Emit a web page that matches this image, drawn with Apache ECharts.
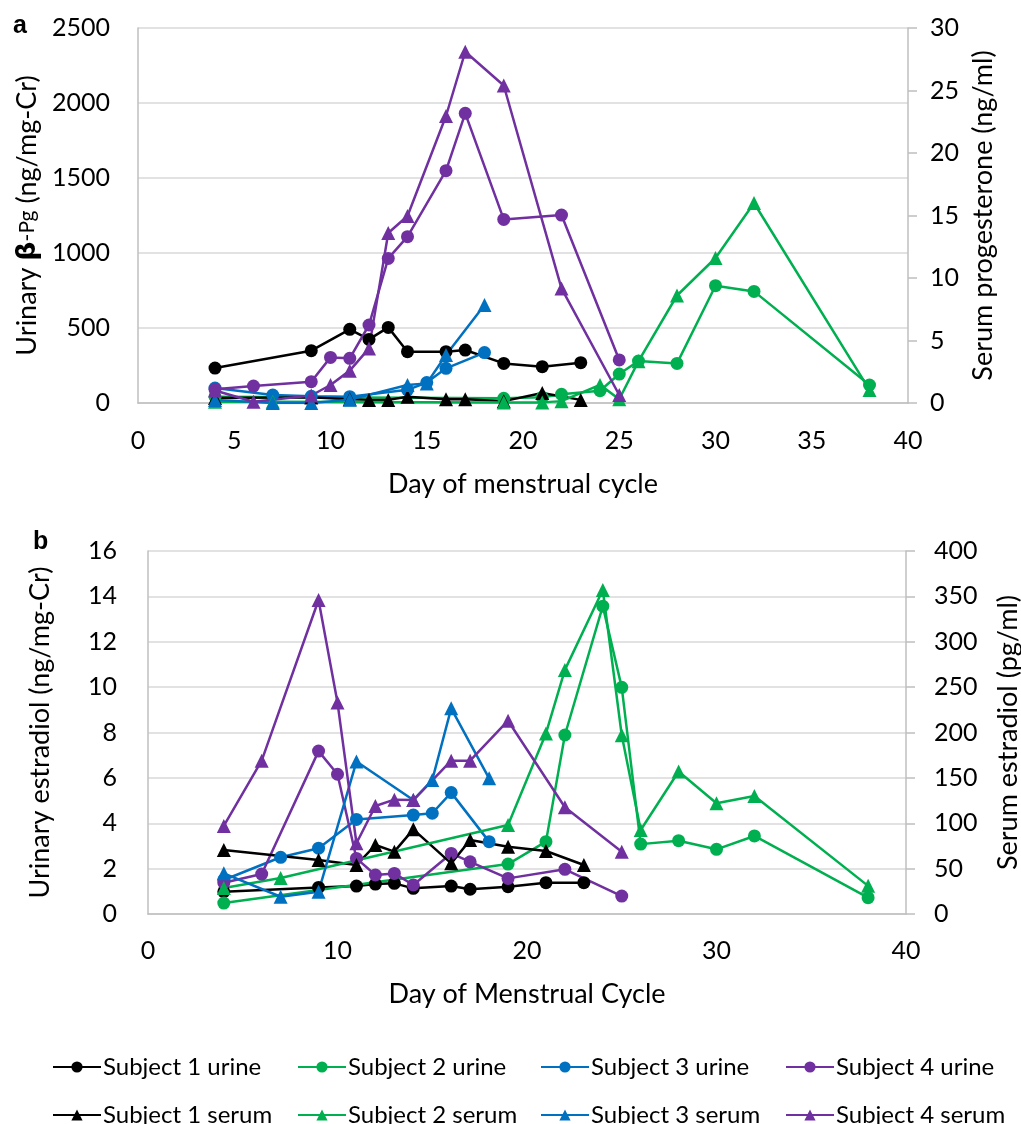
<!DOCTYPE html>
<html>
<head>
<meta charset="utf-8">
<script src="https://cdn.jsdelivr.net/npm/echarts@6/dist/echarts.min.js"></script>
<style>
  html, body { margin: 0; padding: 0; background: #fff; }
  #chart { width: 1021px; height: 1124px; }
</style>
</head>
<body>
<div id="chart"></div>
<script>
// ---- data ----
// panel a: urinary b-Pg (ng/mg-Cr, left) / serum progesterone (ng/ml, right)
var s1Days = [4, 9, 11, 12, 13, 14, 16, 17, 19, 21, 23];
var s2UrineDays = [4, 19, 21, 22, 24, 25, 26, 28, 30, 32, 38];
var s2SerumDays = [4, 7, 19, 21, 22, 24, 25, 26, 28, 30, 32, 38];
var s3Days = [4, 7, 9, 11, 14, 15, 16, 18];
var s4Days = [4, 6, 9, 10, 11, 12, 13, 14, 16, 17, 19, 22, 25];

var s1UrineA = [233, 349, 491, 424, 504, 342, 342, 353, 264, 242, 269];
var s1SerumA = [0.4, 0.45, 0.3, 0.25, 0.25, 0.5, 0.3, 0.3, 0.15, 0.8, 0.25];
var s2UrineA = [42, 31, 38, 58, 82, 193, 280, 264, 782, 744, 120];
var s2SerumA = [0.1, 0.1, 0.05, 0.05, 0.15, 1.45, 0.3, 3.35, 8.6, 11.6, 16.0, 1.05];
var s3UrineA = [100, 53, 45, 42, 88, 136, 231, 336];
var s3SerumA = [0.25, 0, 0, 0.27, 1.44, 1.57, 3.84, 7.84];
var s4UrineA = [91, 113, 142, 304, 298, 520, 964, 1109, 1549, 1931, 1224, 1253, 287];
var s4SerumA = [1.0, 0.1, 0.6, 1.44, 2.59, 4.37, 13.6, 14.96, 22.96, 28.1, 25.4, 9.17, 0.64];

// panel b: urinary estradiol (ng/mg-Cr, left) / serum estradiol (pg/ml, right)
var s1UrineB = [0.98, 1.17, 1.23, 1.32, 1.35, 1.13, 1.23, 1.09, 1.2, 1.38, 1.38];
var s1SerumB = [70.5, 59.5, 54, 76, 68.7, 93.3, 55.8, 81.5, 74, 69.4, 54];
var s2UrineB = [0.48, 2.2, 3.19, 7.89, 13.57, 9.99, 3.08, 3.23, 2.85, 3.44, 0.72];
var s2SerumB = [28.6, 39.7, 98, 199, 269, 357, 197, 92.6, 157, 122, 130, 31];
var s3UrineB = [1.5, 2.5, 2.9, 4.17, 4.36, 4.44, 5.35, 3.19];
var s3SerumB = [44.8, 19, 24.6, 168, 125.6, 147.6, 226.6, 149.5];
var s4UrineB = [1.38, 1.76, 7.18, 6.16, 2.45, 1.72, 1.79, 1.28, 2.67, 2.3, 1.57, 1.97, 0.79];
var s4SerumB = [97, 169, 346, 233, 78, 119, 126, 125.6, 169, 169, 213, 117.6, 68.7];

var names = ['Subject 1 urine', 'Subject 2 urine', 'Subject 3 urine', 'Subject 4 urine',
             'Subject 1 serum', 'Subject 2 serum', 'Subject 3 serum', 'Subject 4 serum'];
var colors = ['#000000', '#00b050', '#0070c0', '#7030a0'];

var FONT = 'Lato';
var TICK = 25, TITLE = 27;
var gridColor = '#d9d9d9';
var axisColor = '#bfbfbf';

function pairs(days, vals) {
  var out = [];
  for (var i = 0; i < days.length; i++) out.push([days[i], vals[i]]);
  return out;
}

function line(name, color, serum, days, vals, panel) {
  return {
    name: name,
    type: 'line',
    xAxisIndex: panel,
    yAxisIndex: panel * 2 + (serum ? 1 : 0),
    data: pairs(days, vals),
    symbol: serum ? 'triangle' : 'circle',
    symbolSize: serum ? 14 : 13,
    lineStyle: { color: color, width: 2.5 },
    itemStyle: { color: color },
    emphasis: { disabled: true }
  };
}

function plain(v) { return String(v); }

function xAx(grid, interval, name, margin, gap) {
  return {
    type: 'value', gridIndex: grid, min: 0, max: 40, interval: interval,
    name: name, nameLocation: 'middle', nameGap: gap,
    nameTextStyle: { fontFamily: FONT, fontSize: TITLE, color: '#000' },
    axisLine: { show: true, lineStyle: { color: axisColor, width: 1.5 } },
    axisTick: { show: false },
    axisLabel: { fontFamily: FONT, fontSize: TICK, color: '#000', margin: margin, formatter: plain },
    splitLine: { show: false }
  };
}

function yAx(grid, pos, max, interval, name, gap, margin, rich) {
  var ax = {
    type: 'value', gridIndex: grid, position: pos, min: 0, max: max, interval: interval,
    name: name, nameLocation: 'middle', nameGap: gap, nameRotate: 90,
    nameTextStyle: { fontFamily: FONT, fontSize: TITLE, color: '#000' },
    axisLine: { show: true, lineStyle: { color: axisColor, width: 1.5 } },
    axisTick: { show: pos === 'right', length: 9, lineStyle: { color: axisColor, width: 1.5 } },
    axisLabel: { fontFamily: FONT, fontSize: TICK, color: '#000', margin: margin, formatter: plain },
    splitLine: { show: pos === 'left', lineStyle: { color: gridColor, width: 1.5 } }
  };
  if (rich) ax.nameTextStyle.rich = rich;
  return ax;
}

var series = [
  line(names[0], colors[0], false, s1Days, s1UrineA, 0),
  line(names[1], colors[1], false, s2UrineDays, s2UrineA, 0),
  line(names[2], colors[2], false, s3Days, s3UrineA, 0),
  line(names[3], colors[3], false, s4Days, s4UrineA, 0),
  line(names[4], colors[0], true, s1Days, s1SerumA, 0),
  line(names[5], colors[1], true, s2SerumDays, s2SerumA, 0),
  line(names[6], colors[2], true, s3Days, s3SerumA, 0),
  line(names[7], colors[3], true, s4Days, s4SerumA, 0),
  line(names[0], colors[0], false, s1Days, s1UrineB, 1),
  line(names[1], colors[1], false, s2UrineDays, s2UrineB, 1),
  line(names[2], colors[2], false, s3Days, s3UrineB, 1),
  line(names[3], colors[3], false, s4Days, s4UrineB, 1),
  line(names[4], colors[0], true, s1Days, s1SerumB, 1),
  line(names[5], colors[1], true, s2SerumDays, s2SerumB, 1),
  line(names[6], colors[2], true, s3Days, s3SerumB, 1),
  line(names[7], colors[3], true, s4Days, s4SerumB, 1)
];

// legend: one component per item, 4 columns x 2 rows
var legendLeft = [47, 292, 535, 780];
var legendTop = [1050, 1098];
var legends = names.map(function (n, i) {
  return {
    data: [n], left: legendLeft[i % 4], top: legendTop[Math.floor(i / 4)],
    itemWidth: 48, itemHeight: 14, selectedMode: false,
    textStyle: { fontFamily: FONT, fontSize: 24, color: '#000', padding: [0, 0, 0, -3] }
  };
});

var chart = echarts.init(document.getElementById('chart'), null, { renderer: 'canvas' });
chart.setOption({
  animation: false,
  backgroundColor: '#fff',
  grid: [
    { left: 138, right: 113, top: 28, height: 375, outerBoundsMode: 'none' },
    { left: 148, right: 115, top: 551, height: 363, outerBoundsMode: 'none' }
  ],
  xAxis: [
    xAx(0, 5, 'Day of menstrual cycle', 25, 68),
    xAx(1, 10, 'Day of Menstrual Cycle', 24, 67)
  ],
  yAxis: [
    yAx(0, 'left', 2500, 500, '{t|Urinary }{b|β}{s|-Pg}{t| (ng/mg-Cr)}', 82, 28, {
      t: { fontFamily: FONT, fontSize: TITLE, color: '#000' },
      b: { fontFamily: 'DejaVu Sans', fontSize: 27, fontWeight: 'bold', color: '#000' },
      s: { fontFamily: FONT, fontSize: 21, color: '#000' }
    }),
    yAx(0, 'right', 30, 5, 'Serum progesterone (ng/ml)', 62, 22),
    yAx(1, 'left', 16, 2, 'Urinary estradiol (ng/mg-Cr)', 94, 31),
    yAx(1, 'right', 400, 50, 'Serum estradiol (pg/ml)', 89, 28)
  ],
  legend: legends,
  graphic: [
    { type: 'text', left: 13, top: 14, style: { text: 'a', font: 'bold 25px Arial', fill: '#000' } },
    { type: 'text', left: 33, top: 530, style: { text: 'b', font: 'bold 25px Arial', fill: '#000' } }
  ],
  series: series
});
</script>
</body>
</html>
